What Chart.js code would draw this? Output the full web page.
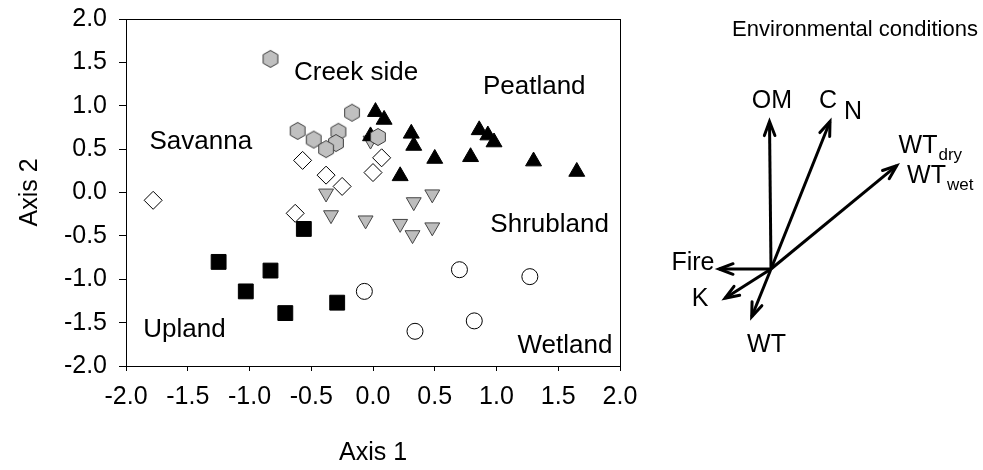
<!DOCTYPE html>
<html>
<head>
<meta charset="utf-8">
<script src="https://cdn.jsdelivr.net/npm/chart.js@4.4.1/dist/chart.umd.min.js"></script>
<style>
  html, body { margin: 0; padding: 0; background: #fff; }
  #wrap { position: relative; width: 983px; height: 470px; }
  #ord { position: absolute; left: 0; top: 0; width: 640px; height: 470px; }
  #env { position: absolute; left: 640px; top: 0; width: 343px; height: 470px; }
</style>
</head>
<body>
<div id="wrap">
  <canvas id="ord" width="640" height="470"></canvas>
  <canvas id="env" width="343" height="470"></canvas>
</div>
<script>
// ---- Ordination scores (Axis 1, Axis 2) per habitat ----
const wetlandX = [-0.07, 0.34, 0.70, 0.82, 1.27];
const wetlandY = [-1.14, -1.60, -0.89, -1.48, -0.97];

const uplandX = [-1.25, -1.03, -0.83, -0.71, -0.29, -0.56];
const uplandY = [-0.80, -1.14, -0.90, -1.39, -1.27, -0.42];

const creekX = [-0.83, -0.61, -0.48, -0.28, -0.30, -0.38, -0.17, 0.04];
const creekY = [1.54, 0.71, 0.61, 0.70, 0.57, 0.50, 0.92, 0.64];

const savannaX = [-1.78, -0.57, -0.38, -0.25, 0.07, 0.00, -0.63];
const savannaY = [-0.09, 0.37, 0.20, 0.07, 0.40, 0.23, -0.24];

const peatX = [-0.02, 0.02, 0.09, 0.31, 0.33, 0.50, 0.22, 0.79, 0.86, 0.93, 0.98, 1.30, 1.65];
const peatY = [0.65, 0.93, 0.84, 0.68, 0.54, 0.39, 0.19, 0.41, 0.72, 0.66, 0.58, 0.36, 0.24];

const shrubX = [-0.38, -0.34, -0.06, 0.22, 0.32, 0.48, 0.33, 0.48, -0.02];
const shrubY = [-0.01, -0.26, -0.32, -0.36, -0.49, -0.40, -0.11, -0.02, 0.60];

// Habitat names written inside the plot (left edge, vertical middle; axis units)
const regionNames = ['Creek side', 'Peatland', 'Savanna', 'Shrubland', 'Upland', 'Wetland'];
const regionX = [-0.64, 0.89, -1.81, 0.95, -1.86, 1.17];
const regionY = [1.38, 1.22, 0.58, -0.37, -1.585, -1.77];

// Axis ticks
const tickMin = -2.0;
const tickMax = 2.0;
const tickStep = 0.5;

// ---- Environmental vectors (biplot arrows from the origin) ----
const vectorNames = ['OM', 'C/N', 'WTdry/wet', 'Fire', 'K', 'WT'];
const vectorX = [-0.015, 0.59, 1.257, -0.52, -0.46, -0.193];
const vectorY = [1.475, 1.475, 1.033, 0.0, -0.293, -0.477];

// Vector labels: main text, subscript, centre position (vector units)
const envText = ['OM', 'C', 'N', 'WT', 'WT', 'Fire', 'K', 'WT'];
const envSub  = ['', '', '', 'dry', 'wet', '', '', ''];
const envX = [0.01, 0.57, 0.82, 1.47, 1.555, -0.78, -0.71, -0.045];
const envY = [1.68, 1.68, 1.57, 1.23, 0.93, 0.06, -0.30, -0.76];
const envTitle = 'Environmental conditions';

const FONT = '"Liberation Sans", Arial, Helvetica, sans-serif';
Chart.defaults.font.family = FONT;
Chart.defaults.color = '#000';

const toPts = (xs, ys) => xs.map((x, i) => ({ x: x, y: ys[i] }));

// Grey hexagon marker (pointy top)
function hexMarker(r) {
  const s = Math.ceil(2 * r + 3);
  const c = document.createElement('canvas');
  c.width = s; c.height = s;
  const g = c.getContext('2d');
  g.beginPath();
  for (let i = 0; i < 6; i++) {
    const a = Math.PI / 180 * (60 * i - 90);
    const px = s / 2 + r * Math.cos(a), py = s / 2 + r * Math.sin(a);
    if (i === 0) g.moveTo(px, py); else g.lineTo(px, py);
  }
  g.closePath();
  g.fillStyle = '#c0c0c0';
  g.fill();
  g.lineWidth = 1;
  g.strokeStyle = '#3c3c3c';
  g.stroke();
  return c;
}

const regionLabels = {
  id: 'regionLabels',
  afterDatasetsDraw(chart) {
    const { ctx, scales } = chart;
    ctx.save();
    ctx.fillStyle = '#000';
    ctx.font = '26px ' + FONT;
    ctx.textAlign = 'left';
    ctx.textBaseline = 'middle';
    regionNames.forEach((t, i) => {
      ctx.fillText(t, scales.x.getPixelForValue(regionX[i]), scales.y.getPixelForValue(regionY[i]));
    });
    ctx.restore();
  }
};

const axisCommon = (extra) => Object.assign({
  type: 'linear',
  min: tickMin,
  max: tickMax,
  border: { display: true, color: '#000', width: 1 }
}, extra);

new Chart(document.getElementById('ord'), {
  type: 'scatter',
  data: {
    datasets: [
      { label: 'Wetland', data: toPts(wetlandX, wetlandY), pointStyle: 'circle', pointRadius: 8, pointHoverRadius: 8,
        backgroundColor: '#fff', borderColor: '#000', borderWidth: 1 },
      { label: 'Upland', data: toPts(uplandX, uplandY), pointStyle: 'rect', pointRadius: 10.5, pointHoverRadius: 10.5,
        backgroundColor: '#000', borderColor: '#000', borderWidth: 1 },
      { label: 'Creek side', data: toPts(creekX, creekY), pointStyle: hexMarker(8.5), pointRadius: 9, pointHoverRadius: 9,
        backgroundColor: '#c0c0c0', borderColor: '#3c3c3c', borderWidth: 1 },
      { label: 'Savanna', data: toPts(savannaX, savannaY), pointStyle: 'rectRot', pointRadius: 9, pointHoverRadius: 9,
        backgroundColor: '#fff', borderColor: '#000', borderWidth: 1 },
      { label: 'Peatland', data: toPts(peatX, peatY), pointStyle: 'triangle', pointRadius: 9.2, pointHoverRadius: 9.2,
        backgroundColor: '#000', borderColor: '#000', borderWidth: 1 },
      { label: 'Shrubland', data: toPts(shrubX, shrubY), pointStyle: 'triangle', pointRotation: 180,
        pointRadius: 8.6, pointHoverRadius: 8.6,
        backgroundColor: '#bdbdbd', borderColor: '#454545', borderWidth: 1 }
    ]
  },
  options: {
    responsive: false,
    animation: false,
    events: [],
    layout: { padding: { left: 0, right: 20, top: 19, bottom: 0 } },
    plugins: { legend: { display: false }, tooltip: { enabled: false } },
    scales: {
      x: axisCommon({
        position: 'bottom',
        ticks: { stepSize: tickStep, autoSkip: false, maxRotation: 0, padding: 11,
                 font: { size: 25 }, color: '#000', callback: v => Number(v).toFixed(1) },
        grid: { display: true, drawOnChartArea: false, drawTicks: true, tickLength: 5, color: '#000' },
        title: { display: true, text: 'Axis 1', font: { size: 25 }, color: '#000', padding: { top: 0, bottom: 2 } },
        afterFit(s) { s.height = 104; s.paddingLeft = 0; s.paddingRight = 0; }
      }),
      y: axisCommon({
        position: 'left',
        ticks: { stepSize: tickStep, autoSkip: false, padding: 12,
                 font: { size: 25 }, color: '#000', callback: v => Number(v).toFixed(1) },
        grid: { display: true, drawOnChartArea: false, drawTicks: true, tickLength: 7, color: '#000' },
        title: { display: true, text: 'Axis 2', font: { size: 25 }, color: '#000', padding: { top: 15, bottom: 0 } },
        afterFit(s) { s.width = 126; s.paddingTop = 0; s.paddingBottom = 0; }
      }),
      xTop: axisCommon({
        position: 'top',
        ticks: { display: false },
        grid: { display: false, drawTicks: false },
        afterFit(s) { s.height = 0; s.paddingLeft = 0; s.paddingRight = 0; }
      }),
      yRight: axisCommon({
        position: 'right',
        ticks: { display: false },
        grid: { display: false, drawTicks: false },
        afterFit(s) { s.width = 0; s.paddingTop = 0; s.paddingBottom = 0; }
      })
    }
  },
  plugins: [regionLabels]
});

// ---- Environmental vector diagram ----
const arrowHeads = {
  id: 'arrowHeads',
  afterDatasetsDraw(chart) {
    const ctx = chart.ctx;
    ctx.save();
    ctx.strokeStyle = '#000';
    ctx.lineWidth = 3;
    ctx.lineJoin = 'miter';
    ctx.lineCap = 'round';
    chart.data.datasets.forEach((ds, i) => {
      const pts = chart.getDatasetMeta(i).data;
      const a = pts[0], b = pts[1];
      const ang = Math.atan2(b.y - a.y, b.x - a.x);
      const len = 15, spread = 0.36;
      ctx.beginPath();
      ctx.moveTo(b.x - len * Math.cos(ang - spread), b.y - len * Math.sin(ang - spread));
      ctx.lineTo(b.x, b.y);
      ctx.lineTo(b.x - len * Math.cos(ang + spread), b.y - len * Math.sin(ang + spread));
      ctx.stroke();
    });
    ctx.restore();
  }
};

const envLabels = {
  id: 'envLabels',
  afterDatasetsDraw(chart) {
    const { ctx, scales } = chart;
    ctx.save();
    ctx.fillStyle = '#000';
    ctx.textBaseline = 'middle';
    // heading
    ctx.font = '22px ' + FONT;
    ctx.textAlign = 'center';
    ctx.fillText(envTitle, scales.x.getPixelForValue(0.84), scales.y.getPixelForValue(2.39));
    envText.forEach((t, i) => {
      const px = scales.x.getPixelForValue(envX[i]);
      const py = scales.y.getPixelForValue(envY[i]);
      ctx.font = '25px ' + FONT;
      ctx.textAlign = 'center';
      ctx.fillText(t, px, py);
      if (envSub[i]) {
        const w = ctx.measureText(t).width;
        ctx.font = '17px ' + FONT;
        ctx.textAlign = 'left';
        ctx.fillText(envSub[i], px + w / 2 + 1, py + 9);
      }
    });
    ctx.restore();
  }
};

new Chart(document.getElementById('env'), {
  type: 'scatter',
  data: {
    datasets: vectorNames.map((n, i) => ({
      label: n,
      data: [{ x: 0, y: 0 }, { x: vectorX[i], y: vectorY[i] }],
      showLine: true,
      borderColor: '#000',
      borderWidth: 3,
      pointRadius: 0,
      pointHoverRadius: 0,
      fill: false
    }))
  },
  options: {
    responsive: false,
    animation: false,
    events: [],
    layout: { padding: 0 },
    plugins: { legend: { display: false }, tooltip: { enabled: false } },
    scales: {
      x: { type: 'linear', display: false, min: -1.31, max: 2.12 },
      y: { type: 'linear', display: false, min: -2.01, max: 2.69 }
    }
  },
  plugins: [arrowHeads, envLabels]
});
</script>
</body>
</html>
